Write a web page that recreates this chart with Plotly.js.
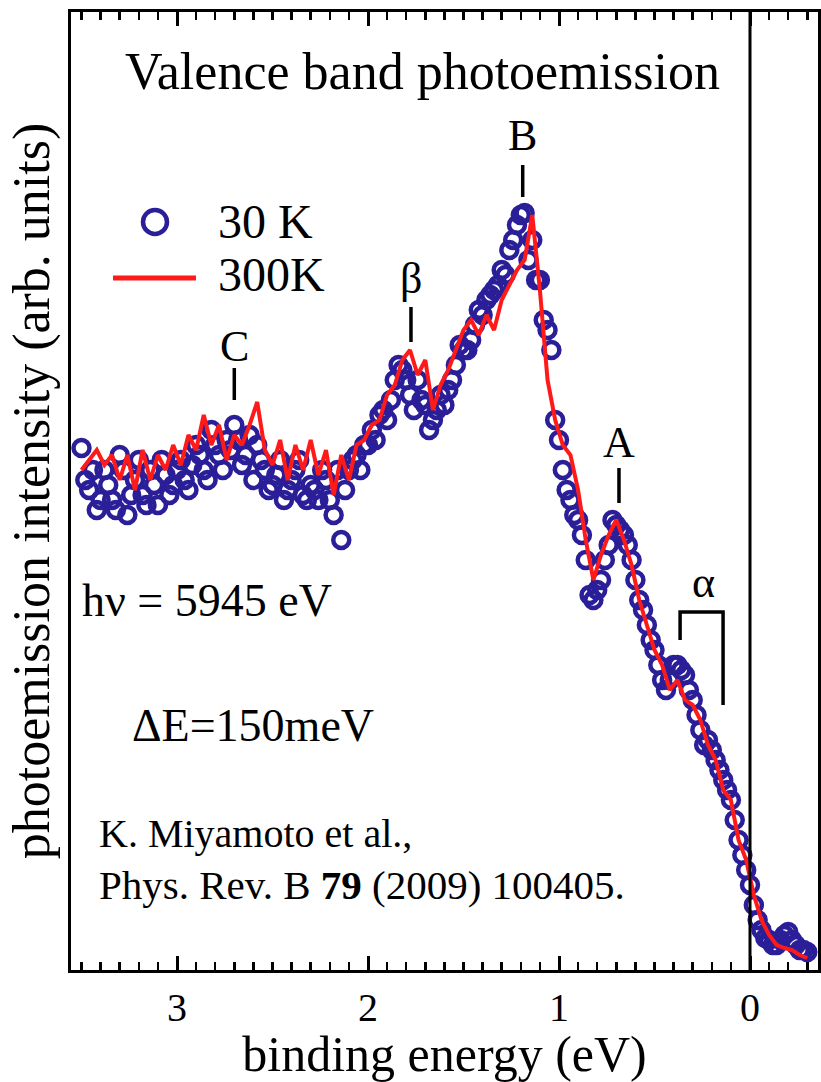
<!DOCTYPE html>
<html>
<head>
<meta charset="utf-8">
<script src="https://cdn.plot.ly/plotly-3.0.1.min.js"></script>
<style>html,body{margin:0;padding:0;background:#fff;}#chart{width:821px;height:1082px;}</style>
</head>
<body>
<div id="chart"></div>
<script>
// Binding energy grid (eV)
const energy = [
 3.50,3.46,3.42,3.38,3.34,3.30,3.26,3.22,3.18,3.14,
 3.10,3.06,3.02,2.98,2.94,2.90,2.86,2.82,2.78,2.74,
 2.70,2.66,2.62,2.58,2.54,2.50,2.46,2.42,2.38,2.34,
 2.30,2.26,2.22,2.18,2.14,2.10,2.06,2.02,1.98,1.94,
 1.90,1.86,1.82,1.78,1.74,1.70,1.66,1.62,1.58,1.54,
 1.50,1.46,1.42,1.38,1.34,1.30,1.26,1.22,1.18,1.14,
 1.10,1.06,1.02,0.98,0.94,0.90,0.86,0.82,0.78,0.74,
 0.70,0.66,0.62,0.58,0.54,0.50,0.46,0.42,0.38,0.34,
 0.30,0.26,0.22,0.18,0.14,0.10,0.06,0.02,-0.02,-0.06,
 -0.10,-0.14,-0.18,-0.22,-0.26,-0.30
];
// 30 K intensity (arb. units) on the energy grid
const intensity30K = [
 52.2,48.0,46.0,50.0,47.0,51.5,45.5,49.0,47.5,50.0,
 46.5,49.5,48.5,51.0,48.0,52.5,50.0,54.0,51.5,53.0,
 54.5,50.5,53.5,52.5,50.0,48.5,51.0,48.0,50.0,47.5,
 48.5,47.0,49.0,45.5,43.0,50.0,51.5,52.5,54.0,55.5,
 55.0,59.0,60.0,57.5,59.0,56.5,55.0,57.5,58.0,60.5,
 62.0,63.0,66.0,67.0,68.0,70.0,72.0,74.5,75.7,73.0,
 69.0,64.0,55.0,50.0,47.0,45.0,41.0,37.0,39.0,42.5,
 44.5,43.5,41.0,37.0,34.5,32.0,29.0,29.0,30.5,29.5,
 27.0,24.0,23.0,21.0,19.0,17.0,13.0,10.0,6.5,4.0,
 3.0,2.5,3.5,3.0,2.0,1.8
];
// 30 K: the in-between energies (eV) and intensities
const energyMid = [
 3.48,3.44,3.40,3.36,3.32,3.28,3.24,3.20,3.16,3.12,
 3.08,3.04,3.00,2.96,2.92,2.88,2.84,2.80,2.76,2.72,
 2.68,2.64,2.60,2.56,2.52,2.48,2.44,2.40,2.36,2.32,
 2.28,2.24,2.20,2.16,2.12,2.08,2.04,2.00,1.96,1.92,
 1.88,1.84,1.80,1.76,1.72,1.68,1.64,1.60,1.56,1.52,
 1.48,1.44,1.40,1.36,1.32,1.28,1.24,1.20,1.16,1.12,
 1.08,1.04,1.00,0.96,0.92,0.88,0.84,0.80,0.76,0.72,
 0.68,0.64,0.60,0.56,0.52,0.48,0.44,0.40,0.36,0.32,
 0.28,0.24,0.20,0.16,0.12,0.08,0.04,0.00,-0.04,-0.08,
 -0.12,-0.16,-0.20,-0.24,-0.28
];
const intensity30KMid = [
 49.0,50.0,47.0,48.5,46.0,50.0,47.5,51.0,46.5,48.5,
 51.0,47.5,50.0,49.0,50.5,51.5,49.0,52.5,50.0,52.0,
 53.0,51.5,49.0,51.0,48.0,49.5,47.0,49.0,51.0,47.0,
 48.0,50.0,47.0,50.0,48.0,51.0,50.0,52.5,53.0,56.0,
 57.0,60.5,59.0,56.0,57.0,54.0,56.0,56.5,59.0,62.5,
 62.0,64.5,65.5,67.5,68.5,69.5,73.0,75.5,71.0,69.0,
 65.0,62.0,53.0,48.0,45.5,43.5,37.5,38.0,41.0,45.0,
 44.0,42.5,39.0,36.0,33.0,30.5,28.0,30.5,30.0,28.0,
 25.5,22.5,22.0,20.0,18.0,15.0,11.5,8.5,5.0,3.2,
 2.5,3.0,3.8,2.5,2.0
];
// 300 K intensity (arb. units) on the energy grid
const intensity300K = [
 50.0,51.0,52.0,50.5,51.5,49.0,51.5,48.0,52.0,49.0,
 51.5,50.0,52.5,50.5,53.5,52.0,55.5,52.5,54.5,51.0,
 53.5,52.5,54.5,56.8,52.0,50.5,53.0,49.0,52.5,50.0,
 53.0,49.5,52.0,47.5,51.5,49.0,52.5,53.0,54.5,55.0,
 57.5,58.5,61.0,62.0,59.5,61.0,56.0,58.5,60.0,62.0,
 64.0,65.0,63.5,65.5,64.0,67.0,68.5,70.0,71.0,75.5,
 68.0,59.0,55.0,52.5,51.5,48.0,43.0,39.0,41.5,43.5,
 45.0,43.0,40.5,37.0,34.5,32.0,30.5,28.0,29.0,27.0,
 26.5,25.0,22.5,21.0,18.0,17.0,13.0,11.0,7.5,5.0,
 3.5,2.5,2.2,2.0,1.5,1.2
];
const tickValues = [0, 1, 2, 3];
const tickLabels = ["0", "1", "2", "3"];
// Peak labels: name, energy, label height, marker top, marker bottom
const peakNames = ["B", "β", "C", "A"];
const peakEnergy = [1.19, 1.775, 2.70, 0.686];
const peakTextY = [83.5, 69.2, 62.4, 52.8];
const peakLineTop = [80.5, 66.3, 60.2, 50.2];
const peakLineBottom = [77.3, 62.8, 57.0, 46.7];

const FONT = "Liberation Serif, Times New Roman, serif";
const NAVY = "#2a1f98";
const RED = "#ff1a1a";

const markerStyle = {symbol: "circle-open", size: 16, color: NAVY, line: {width: 4.5, color: NAVY}};
const traces = [
  {x: energy, y: intensity30K, type: "scatter", mode: "markers", name: "30 K", marker: markerStyle, showlegend: false},
  {x: energyMid, y: intensity30KMid, type: "scatter", mode: "markers", name: "30 K", marker: markerStyle, showlegend: false},
  {x: energy, y: intensity300K, type: "scatter", mode: "lines", name: "300K",
   line: {color: RED, width: 4}, showlegend: false}
];

const shapes = [
  {type: "line", xref: "x", yref: "paper", x0: 0, x1: 0, y0: 0, y1: 1, line: {color: "black", width: 3}},
  // legend symbols
  {type: "circle", xref: "paper", yref: "paper", x0: 0.0964, x1: 0.1285, y0: 0.7683, y1: 0.7933, line: {color: NAVY, width: 4.5}},
  {type: "line", xref: "paper", yref: "paper", x0: 0.0562, x1: 0.1673, y0: 0.7223, y1: 0.7223, line: {color: RED, width: 5}},
  // alpha bracket
  {type: "path", xref: "x", yref: "y", path: "M 0.366,33.0 L 0.366,35.8 L 0.141,35.8 L 0.141,26.5", line: {color: "black", width: 3.5}}
];
const annotations = [];
function txt(x, y, text, size, xanchor, ref) {
  return {xref: ref || "paper", yref: ref ? "y" : "paper", x: x, y: y, text: text, showarrow: false,
          xanchor: xanchor || "center", yanchor: "middle", font: {family: FONT, size: size, color: "black"}};
}
for (let i = 0; i < peakNames.length; i++) {
  shapes.push({type: "line", xref: "x", yref: "y", x0: peakEnergy[i], x1: peakEnergy[i], y0: peakLineBottom[i], y1: peakLineTop[i], line: {color: "black", width: 3.5}});
  annotations.push(txt(peakEnergy[i], peakTextY[i], peakNames[i], 44, "center", "x"));
}
annotations.push(
  txt(0.246, 38.8, "α", 44, "center", "x"),
  txt(0.471, 0.9374, "Valence band photoemission", 52),
  txt(0.261, 0.7808, "30 K", 48),
  txt(0.269, 0.7265, "300K", 48),
  txt(0.012, 0.3862, "hν = 5945 eV", 46, "left"),
  txt(0.079, 0.2557, "ΔE=150meV", 46, "left"),
  txt(0.0348, 0.143, "K. Miyamoto et al.,", 40, "left"),
  txt(0.0348, 0.0887, "Phys. Rev. B <b>79</b> (2009) 100405.", 41, "left")
);

const layout = {
  width: 821, height: 1082,
  margin: {l: 71, r: 3, t: 12, b: 112},
  paper_bgcolor: "white", plot_bgcolor: "white",
  showlegend: false,
  xaxis: {
    range: [3.555, -0.356], showgrid: false, zeroline: false,
    showline: true, linecolor: "black", linewidth: 3, mirror: "ticks",
    ticks: "inside", ticklen: 14, tickwidth: 3, tickcolor: "black",
    tickvals: tickValues, ticktext: tickLabels,
    tickfont: {family: FONT, size: 40, color: "black"},
    minor: {dtick: 0.1, tick0: 0, ticks: "inside", ticklen: 8, tickwidth: 2.5, tickcolor: "black"},
    title: {text: "binding energy (eV)", font: {family: FONT, size: 50, color: "black"}, standoff: 2}
  },
  yaxis: {
    range: [0, 95.8], showgrid: false, zeroline: false,
    showline: true, linecolor: "black", linewidth: 3, mirror: true,
    ticks: "", showticklabels: false,
    title: {text: "photoemission intensity (arb. units)", font: {family: FONT, size: 52, color: "black"}, standoff: 2}
  },
  shapes: shapes,
  annotations: annotations
};
Plotly.newPlot("chart", traces, layout, {displayModeBar: false, staticPlot: true});
</script>
</body>
</html>
